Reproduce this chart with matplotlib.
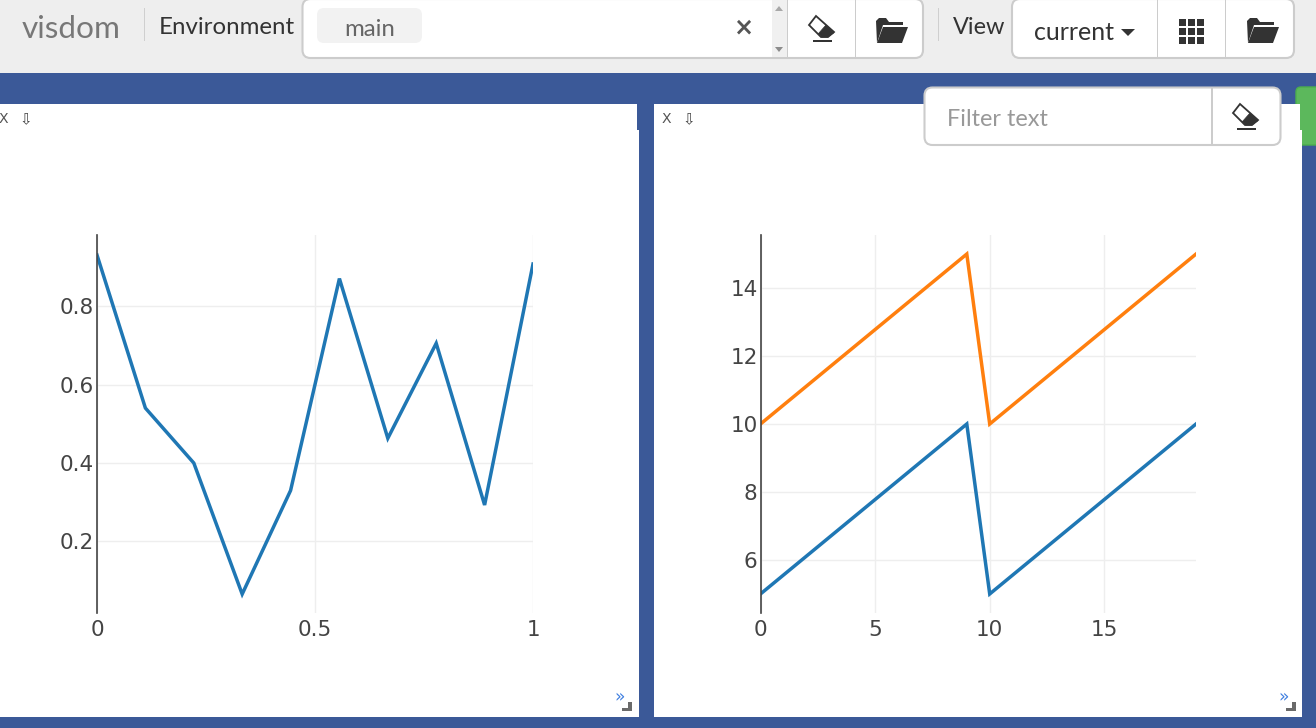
import matplotlib
matplotlib.use("Agg")
import matplotlib.pyplot as plt
from matplotlib.patches import Rectangle, FancyBboxPatch, Polygon

# ---- data ----
left_x = [0, 0.111, 0.222, 0.333, 0.444, 0.556, 0.667, 0.778, 0.889, 1]
left_y = [0.93, 0.54, 0.40, 0.066, 0.33, 0.87, 0.463, 0.705, 0.293, 0.907]
right_x = [0, 9, 10, 19]
right_blue = [5, 10, 5, 10]
right_orange = [10, 15, 10, 15]
left_xticks = [0, 0.5, 1]
left_xlabels = ["0", "0.5", "1"]
left_yticks = [0.2, 0.4, 0.6, 0.8]
right_xticks = [0, 5, 10, 15]
right_yticks = [6, 8, 10, 12, 14]

W, H = 1316, 728
BLUE, ORANGE = "#1f77b4", "#ff7f0e"
NAVY = "#3b5998"
BORDER = "#cccccc"
DARK = "#333333"
UI = "Lato"

fig = plt.figure(figsize=(W / 100, H / 100), dpi=100, facecolor=NAVY)
bg = fig.add_axes([0, 0, 1, 1], zorder=0)
bg.set_xlim(0, W)
bg.set_ylim(H, 0)
bg.axis("off")


def rect(x0, y0, x1, y1, c, z=1):
    bg.add_patch(Rectangle((x0, y0), x1 - x0, y1 - y0, fc=c, ec="none", zorder=z))


def rbox(x0, y0, x1, y1, fc="white", ec=BORDER, r=8, lw=1.5, z=2):
    bg.add_patch(FancyBboxPatch((x0 + r, y0 + r), x1 - x0 - 2 * r, y1 - y0 - 2 * r,
                                boxstyle=f"round,pad={r},rounding_size={r}",
                                fc=fc, ec=ec, lw=lw, zorder=z))


def txt(x, y, s, size, c="#333333", ha="left", weight="normal", fam=UI, z=5):
    bg.text(x, y, s, fontsize=size * 0.72, color=c, ha=ha, va="center",
            fontweight=weight, family=fam, zorder=z)


def eraser(cx, cy, z=9):
    bg.add_patch(Polygon([(cx - 6, cy - 14), (cx - 13, cy - 5), (cx - 1, cy + 7), (cx + 6, cy + 7), (cx + 12, cy + 2)],
                         fc="white", ec=DARK, lw=1.3, zorder=z))
    bg.add_patch(Polygon([(cx - 3.7, cy + 3.7), (cx + 4, cy - 5), (cx + 12, cy + 2.7), (cx + 5.7, cy + 7), (cx, cy + 7)],
                         fc=DARK, ec=DARK, lw=0.5, zorder=z + 1))
    rect(cx - 9, cy + 9.5, cx + 10, cy + 11.5, DARK, z)


def folder(cx, cy, z=6):
    bg.add_patch(Polygon([(cx - 15, cy + 13), (cx - 16, cy - 9), (cx - 13, cy - 12), (cx - 6, cy - 12), (cx - 3, cy - 8),
                          (cx + 11, cy - 8), (cx + 11, cy - 5), (cx - 9, cy - 5)],
                         fc=DARK, ec="none", zorder=z))
    bg.add_patch(Polygon([(cx - 15, cy + 13), (cx - 9, cy - 3), (cx + 16, cy - 3), (cx + 10, cy + 13)],
                         fc=DARK, ec="none", zorder=z))


# top bar
rect(0, 0, W, 73, "#eeeeee")
txt(22, 29, "visdom", 31.5, "#777777")
rect(144, 8, 145, 41, "#cfcfcf")
txt(159, 28, "Environment", 24, "#333333")
rbox(302.5, -1, 923, 58)
rect(772, 0, 787, 57, "#f0f0f0", 3)
bg.add_patch(Polygon([(775, 11), (783, 11), (779, 6)], fc="#a8a8a8", ec="none", zorder=4))
bg.add_patch(Polygon([(775, 47), (783, 47), (779, 52)], fc="#8c8c8c", ec="none", zorder=4))
rbox(317, 8, 422, 43, fc="#f2f2f2", ec="none", r=7, lw=0, z=3)
txt(369.5, 29, "main", 24, "#666666", ha="center")
txt(744, 28, "×", 24, "#555555", ha="center", weight="bold", fam="DejaVu Sans")
rect(786.5, 0, 788, 58, BORDER, 4)
rect(854.5, 0, 856, 58, BORDER, 4)
eraser(822, 30)
folder(892, 30)
rect(938, 8, 939, 41, "#cfcfcf")
txt(953, 28, "View", 23.5, "#333333")
rbox(1012, -1, 1294, 58)
txt(1034, 32, "current", 25, "#333333")
bg.add_patch(Polygon([(1121, 29), (1135, 29), (1128, 36)], fc=DARK, ec="none", zorder=6))
rect(1156.5, 0, 1158, 58, BORDER, 4)
rect(1224.5, 0, 1226, 58, BORDER, 4)
for gx in (1179, 1188, 1197):
    for gy in (19, 28, 37):
        rect(gx, gy, gx + 7, gy + 7, DARK, 6)
folder(1263, 30)

# panels
rbox(1296, 87, 1330, 145, fc="#5cb85c", ec="#4cae4c", r=5, lw=1, z=1)
rect(0, 104, 637, 130, "white", 1.5)
rect(0, 130, 639, 717, "white", 1.5)
rect(654, 104, 1300, 130, "white", 1.5)
rect(654, 130, 1301.5, 717, "white", 1.5)

for x_x, x_a in ((3, 26), (666, 689)):
    txt(x_x, 119, "X", 14, "#555555", ha="center", fam="DejaVu Sans")
    txt(x_a, 120, "⇩", 15, "#444444", ha="center", fam="DejaVu Sans")
for x_m, x_c in ((620, 622), (1284, 1286)):
    txt(x_m, 697, "»", 17, "#3f7fe0", ha="center", fam="DejaVu Sans")
    rect(x_c + 6, 702, x_c + 9.5, 711, "#6a6a6a", 3)
    rect(x_c, 707.5, x_c + 9.5, 711, "#6a6a6a", 3)

# filter box
rbox(924.5, 87.5, 1280.5, 145, z=7)
rect(1211, 88, 1213, 145, BORDER, 8)
txt(947, 119, "Filter text", 23.5, "#999999", z=8)
eraser(1246, 118)


def make_axes(x0, x1, y0=235, y1=613):
    ax = fig.add_axes([x0 / W, 1 - y1 / H, (x1 - x0) / W, (y1 - y0) / H], zorder=2)
    ax.patch.set_alpha(0)
    for s in ("top", "right", "bottom"):
        ax.spines[s].set_visible(False)
    ax.spines["left"].set_color("#444444")
    ax.spines["left"].set_linewidth(1.2)
    ax.grid(True, color="#eeeeee", lw=1.0)
    ax.set_axisbelow(True)
    ax.tick_params(length=0, labelsize=21.5 * 0.72, labelcolor="#444444")
    ax.tick_params(axis="y", pad=2)
    ax.tick_params(axis="x", pad=5)
    return ax


a1 = make_axes(97, 533)
a1.plot(left_x, left_y, color=BLUE, lw=2.5, solid_joinstyle="miter")
a1.set_xlim(0, 1)
a1.set_ylim(0.0178, 0.981)
a1.set_xticks(left_xticks, left_xlabels)
a1.set_yticks(left_yticks)

a2 = make_axes(760.5, 1196)
a2.plot(right_x, right_blue, color=BLUE, lw=2.5, solid_joinstyle="miter")
a2.plot(right_x, right_orange, color=ORANGE, lw=2.5, solid_joinstyle="miter")
a2.set_xlim(0, 19)
a2.set_ylim(4.44, 15.56)
a2.set_xticks(right_xticks)
a2.set_yticks(right_yticks)

fig.savefig("out.png", dpi=100, facecolor=NAVY)
